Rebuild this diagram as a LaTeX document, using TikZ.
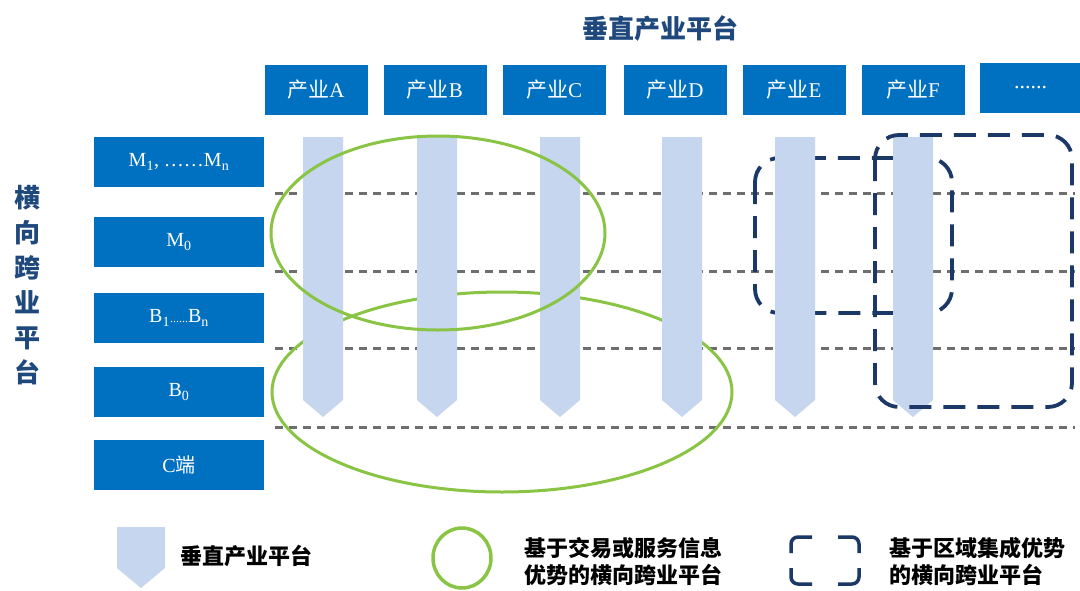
\documentclass[tikz,border=0pt]{standalone}
\usepackage{fontspec}
\setmainfont{Liberation Serif}
\newfontfamily\cjk{Noto Sans CJK SC}
\definecolor{boxblue}{RGB}{0,112,192}
\definecolor{barblue}{RGB}{197,214,238}
\definecolor{ringgreen}{RGB}{137,196,68}
\definecolor{navy}{RGB}{28,56,102}
\definecolor{titleblue}{RGB}{31,73,125}
\definecolor{gridgray}{RGB}{110,110,110}
\tikzset{
  topbox/.style={fill=boxblue, minimum width=103pt, minimum height=50pt, inner sep=0pt, text=white, font=\fontsize{21}{23}\selectfont},
  leftbox/.style={fill=boxblue, minimum width=170pt, minimum height=50pt, inner sep=0pt, text=white, font=\fontsize{20}{22}\selectfont},
  gridline/.style={draw=gridgray, line width=3pt, dash pattern=on 8pt off 6pt},
  vbar/.style={fill=barblue},
  greenring/.style={draw=ringgreen, line width=3pt},
  navydash/.style={draw=navy, line width=3.8pt, dash pattern=on 22pt off 12pt, rounded corners=24pt},
  titletext/.style={text=titleblue, font=\cjk\bfseries\fontsize{26}{35}\selectfont, inner sep=0pt},
  legendtext/.style={text=black, font=\cjk\bfseries\fontsize{22}{27}\selectfont, inner sep=0pt, align=left, anchor=west},
}
\begin{document}
\begin{tikzpicture}[x=1pt,y=-1pt]
\useasboundingbox (0,0) rectangle (1080,590);
\fill[white] (0,0) rectangle (1080,590);

% titles
\node[titletext] (vtitle) at (660,28) {垂直产业平台};
\node[titletext, align=center] (htitle) at (28,285) {横\\向\\跨\\业\\平\\台};

% top boxes
\node[topbox] (pA) at (316,90) {{\cjk 产业}A};
\node[topbox] (pB) at (435,90) {{\cjk 产业}B};
\node[topbox] (pC) at (554,90) {{\cjk 产业}C};
\node[topbox] (pD) at (675,90) {{\cjk 产业}D};
\node[topbox] (pE) at (794,90) {{\cjk 产业}E};
\node[topbox] (pF) at (913,90) {{\cjk 产业}F};
\node[topbox, minimum width=101pt, font=\fontsize{22}{24}\selectfont] (pG) at (1030.5,88) {......};

% left boxes
\node[leftbox] (lM) at (179,162) {M\textsubscript{1}, ……M\textsubscript{n}};
\node[leftbox] (lM0) at (179,242) {M\textsubscript{0}};
\node[leftbox] (lB) at (179,318) {B\textsubscript{1}{\fontsize{12}{12}\selectfont ......}B\textsubscript{n}};
\node[leftbox] (lB0) at (179,392) {B\textsubscript{0}};
\node[leftbox] (lC) at (179,465) {C{\cjk 端}};

% dashed grid lines
\foreach \yy in {193,271,348,427}
  \draw[gridline] (275,\yy) -- (1075,\yy);

% lower green ellipse (behind bars)
\draw[greenring] (502,392) ellipse [x radius=230, y radius=100];

% E region box (behind bars)
\draw[navydash] (755,158) rectangle (952,313);

% vertical bars
\foreach \cx in {323,437,560,682,795,913}
  \fill[vbar] (\cx-20,137) -- (\cx+20,137) -- (\cx+20,400) -- (\cx,417) -- (\cx-20,400) -- cycle;

% upper green ellipse (in front)
\draw[greenring] (438,233) ellipse [x radius=167, y radius=97];

% F region box (in front)
\draw[navydash] (875,135) rectangle (1072,407);

% legend
\fill[vbar] (117,527) -- (165,527) -- (165,568) -- (141,588) -- (117,568) -- cycle;
\node[legendtext] (lg1) at (180,556) {垂直产业平台};
\draw[greenring, line width=3.5pt] (462,558) ellipse [x radius=29, y radius=30];
\node[legendtext] (lg2) at (524,562) {基于交易或服务信息\\优势的横向跨业平台};
\begin{scope}[draw=navy, line width=3.5pt, rounded corners=7pt]
  \draw (812,537) -- (791,537) -- (791,553);
  \draw (838,537) -- (859,537) -- (859,553);
  \draw (812,584) -- (791,584) -- (791,568);
  \draw (838,584) -- (859,584) -- (859,568);
\end{scope}
\node[legendtext] (lg3) at (889,562) {基于区域集成优势\\的横向跨业平台};
\end{tikzpicture}
\end{document}
